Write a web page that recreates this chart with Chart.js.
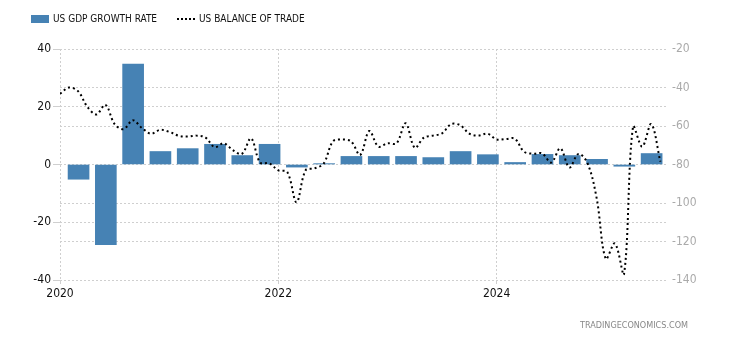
<!DOCTYPE html>
<html>
<head>
<meta charset="utf-8">
<script src="https://cdn.jsdelivr.net/npm/chart.js@4.4.1/dist/chart.umd.min.js"></script>
<style>
  body { margin: 0; background: #fff; }
  #wrap {
    position: relative; width: 730px; height: 340px;
    font-family: 'Liberation Sans Narrow', 'DejaVu Sans Condensed', 'Liberation Sans', Arial, sans-serif;
  }
  #grafico { position: absolute; left: 0; top: 0; }
  .leyenda { position: absolute; font-size: 10px; line-height: 12px; color: #111; white-space: nowrap; }
  .caja { position: absolute; left: 31px; top: 15px; width: 18px; height: 8px; background: #4682b4; }
  .puntos { position: absolute; left: 177px; top: 18px; width: 18px; border-top: 2px dotted #000; }
  .marca { position: absolute; right: 42px; top: 320px; font-size: 9px; color: #888; }
</style>
</head>
<body>
<div id="wrap">
  <canvas id="grafico" width="730" height="340"></canvas>
  <div class="caja"></div>
  <div class="leyenda" style="left:53px; top:13px;">US GDP GROWTH RATE</div>
  <div class="puntos"></div>
  <div class="leyenda" style="left:199px; top:13px;">US BALANCE OF TRADE</div>
  <div class="marca">TRADINGECONOMICS.COM</div>
</div>
<script>
// Trimestres y crecimiento del PIB (%)
const trimestres = ['2020Q1','2020Q2','2020Q3','2020Q4','2021Q1','2021Q2','2021Q3','2021Q4',
  '2022Q1','2022Q2','2022Q3','2022Q4','2023Q1','2023Q2','2023Q3','2023Q4',
  '2024Q1','2024Q2','2024Q3','2024Q4','2025Q1','2025Q2'];
const crecimientoPib = [-5.1, -27.8, 34.8, 4.5, 5.5, 7.0, 3.1, 7.0,
  -0.9, 0.3, 2.8, 2.8, 2.8, 2.4, 4.5, 3.4,
  0.7, 3.5, 3.1, 1.8, -0.6, 3.8];

// Meses y balanza comercial (USD bn)
const meses = [
  '2020-01','2020-02','2020-03','2020-04','2020-05','2020-06','2020-07','2020-08','2020-09','2020-10','2020-11','2020-12',
  '2021-01','2021-02','2021-03','2021-04','2021-05','2021-06','2021-07','2021-08','2021-09','2021-10','2021-11','2021-12',
  '2022-01','2022-02','2022-03','2022-04','2022-05','2022-06','2022-07','2022-08','2022-09','2022-10','2022-11','2022-12',
  '2023-01','2023-02','2023-03','2023-04','2023-05','2023-06','2023-07','2023-08','2023-09','2023-10','2023-11','2023-12',
  '2024-01','2024-02','2024-03','2024-04','2024-05','2024-06','2024-07','2024-08','2024-09','2024-10','2024-11','2024-12',
  '2025-01','2025-02','2025-03','2025-04','2025-05','2025-06','2025-07'
];
const balanzaComercial = [
  -43.2, -40.0, -42.0, -50.0, -54.0, -49.0, -59.0, -61.6, -57.0, -61.0, -64.0, -62.0,
  -63.0, -65.0, -65.5, -65.0, -66.0, -71.0, -69.0, -72.5, -74.5, -66.4, -79.0, -79.4,
  -83.0, -84.0, -99.6, -83.0, -82.0, -79.4, -68.0, -67.0, -68.0, -75.0, -62.6, -70.7,
  -69.0, -69.0, -58.6, -71.3, -66.0, -65.0, -63.8, -59.0, -59.6, -64.0, -65.0, -64.0,
  -67.0, -66.8, -66.6, -73.3, -74.4, -74.2, -79.0, -71.6, -81.5, -74.5, -79.4, -97.6,
  -129.0, -121.0, -137.0, -60.3, -70.7, -59.0, -78.5
];

// Ticks
const ticksIzq = [-40, -20, 0, 20, 40];
const ticksDer = [-140, -120, -100, -80, -60, -40, -20];
const ticksAnios = [2020, 2022, 2024];

const FUENTE = "'Liberation Sans Narrow', 'DejaVu Sans Condensed', 'Liberation Sans', Arial, sans-serif";

// '2020-01' -> 2020.0
const xMes = m => {
    const [a, mm] = m.split('-').map(Number);
    return a + (mm - 1) / 12;
};
// '2020Q1' -> posicion de la barra
const xTrimestre = t => Number(t.slice(0, 4)) + (Number(t.slice(5)) - 1) * 0.25 + 0.17;

const rejilla = { color: '#cfcfcf', lineWidth: 1, offset: false };
const borde = { display: false, dash: [2, 2] };

new Chart(document.getElementById('grafico').getContext('2d'), {
    type: 'bar',
    data: {
        datasets: [
            {
                type: 'line',
                label: 'US BALANCE OF TRADE',
                data: meses.map((m, i) => ({ x: xMes(m), y: balanzaComercial[i] })),
                yAxisID: 'y1',
                borderColor: '#000',
                borderWidth: 2,
                borderDash: [2, 3],
                pointRadius: 0,
                tension: 0.35,
                fill: false,
                order: 0
            },
            {
                type: 'bar',
                label: 'US GDP GROWTH RATE',
                data: trimestres.map((t, i) => ({ x: xTrimestre(t), y: crecimientoPib[i] })),
                yAxisID: 'y',
                backgroundColor: '#4682b4',
                barThickness: 21,
                order: 1
            }
        ]
    },
    options: {
        responsive: false,
        animation: false,
        layout: { padding: { top: 49, left: 0, right: 0, bottom: 0 } },
        plugins: { legend: { display: false }, tooltip: { enabled: false } },
        scales: {
            x: {
                type: 'linear',
                min: 2020,
                max: 2025.57,
                offset: false,
                afterFit: s => { s.height = 60; },
                afterBuildTicks: s => { s.ticks = ticksAnios.map(v => ({ value: v })); },
                grid: { ...rejilla, tickLength: 4 },
                border: borde,
                ticks: {
                    callback: v => String(v),
                    color: '#111',
                    font: { family: FUENTE, size: 12 },
                    padding: 3,
                    maxRotation: 0
                }
            },
            y: {
                position: 'left',
                min: -40,
                max: 40,
                afterFit: s => { s.width = 60; },
                afterBuildTicks: s => { s.ticks = ticksIzq.map(v => ({ value: v })); },
                grid: { ...rejilla, tickLength: 7 },
                border: borde,
                ticks: { color: '#111', font: { family: FUENTE, size: 12 }, padding: 2 }
            },
            y1: {
                position: 'right',
                min: -140,
                max: -20,
                afterFit: s => { s.width = 62; },
                afterBuildTicks: s => { s.ticks = ticksDer.map(v => ({ value: v })); },
                grid: { ...rejilla, drawTicks: false },
                border: borde,
                ticks: { color: '#aaa', font: { family: FUENTE, size: 12 }, padding: 4 }
            }
        }
    }
});
</script>
</body>
</html>
